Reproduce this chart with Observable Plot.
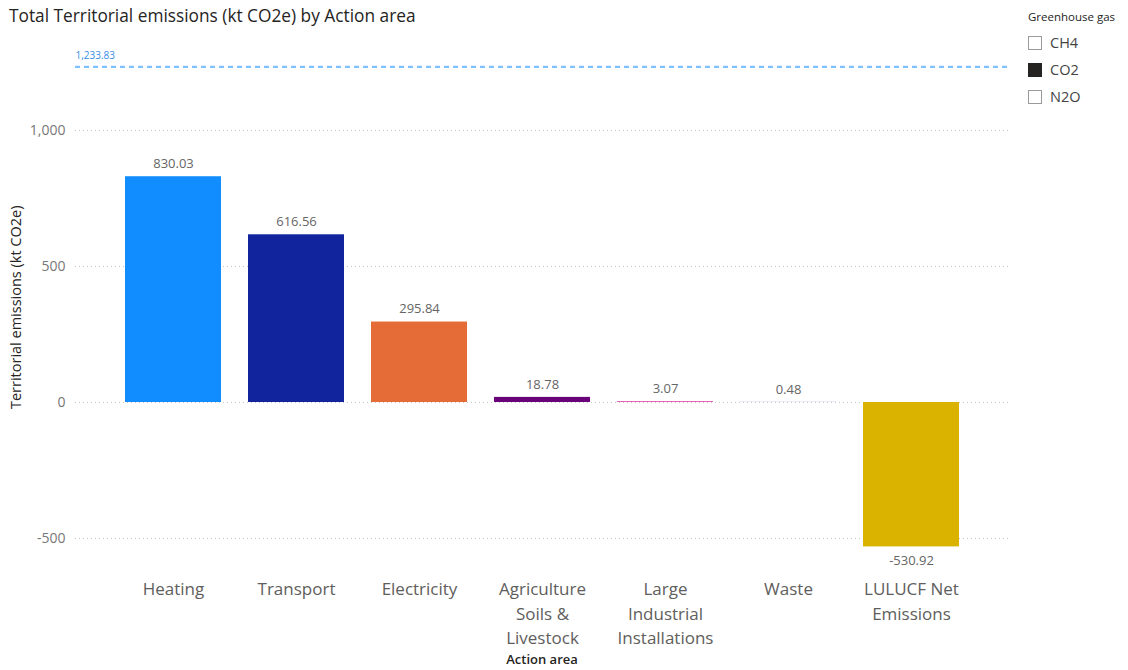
<!DOCTYPE html>
<html>
<head>
<meta charset="utf-8">
<script src="https://cdn.jsdelivr.net/npm/d3@7"></script>
<script src="https://cdn.jsdelivr.net/npm/@observablehq/plot@0.6"></script>
<style>
  html, body { margin: 0; padding: 0; background: #fff; }
  body { width: 1128px; height: 670px; position: relative; overflow: hidden; font-family: "Open Sans", "Noto Sans", sans-serif; }
  #title { position: absolute; left: 9px; top: 4px; font-size: 17.3px; color: #252423; white-space: nowrap; z-index: 2; }
  #chart { position: absolute; left: 0; top: 32px; z-index: 1; }
  #legend { position: absolute; left: 1028px; top: 9px; color: #252423; z-index: 3; }
  #legend .head { font-size: 11.5px; margin-bottom: 5px; }
  #legend .item { display: flex; align-items: center; height: 27px; font-size: 14.5px; color: #444; }
  #legend .box { width: 12px; height: 12px; border: 1px solid #9a9a9a; background: #fff; margin-right: 8px; box-sizing: content-box; }
  #legend .box.on { background: #252423; border-color: #252423; }
</style>
</head>
<body>
<div id="title">Total Territorial emissions (kt CO2e) by Action area</div>
<div id="legend"></div>
<div id="chart"></div>
<script>
const categories = ["Heating", "Transport", "Electricity", "Agriculture Soils & Livestock", "Large Industrial Installations", "Waste", "LULUCF Net Emissions"];
const values = [830.03, 616.56, 295.84, 18.78, 3.07, 0.48, -530.92];
const tickLabels = ["Heating", "Transport", "Electricity", "Agriculture\nSoils &\nLivestock", "Large\nIndustrial\nInstallations", "Waste", "LULUCF Net\nEmissions"];
const barColors = ["#118DFF", "#12239E", "#E66C37", "#6B007B", "#E044A7", "#744EC2", "#D9B300"];
const yTicks = [-500, 0, 500, 1000];
const referenceValue = 1233.83;
const legendTitle = "Greenhouse gas";
const legendItems = ["CH4", "CO2", "N2O"];
const legendSelected = ["CO2"];

const data = categories.map((c, i) => ({category: c, value: values[i], label: tickLabels[i]}));
const labelOf = new Map(data.map(d => [d.category, d.label]));
const fmt2 = v => v.toLocaleString("en-US", {minimumFractionDigits: 2, maximumFractionDigits: 2});
const fmt0 = v => v.toLocaleString("en-US");

const chart = Plot.plot({
  width: 1128,
  height: 638,
  marginLeft: 75,
  marginRight: 120,
  marginTop: 16.4,
  marginBottom: 104.8,
  style: {fontFamily: "'Open Sans', 'Noto Sans', sans-serif", background: "#fff"},
  x: {domain: categories, paddingInner: 0.22, paddingOuter: 0.4, axis: null},
  y: {domain: [-600, 1300], axis: null},
  color: {domain: categories, range: barColors},
  marks: [
    Plot.gridY(yTicks, {stroke: "#c8c8c8", strokeOpacity: 1, strokeDasharray: "1,3", strokeWidth: 1}),
    Plot.axisY(yTicks, {tickSize: 0, tickPadding: 10, fontSize: 14, color: "#777", tickFormat: fmt0, label: null}),
    Plot.text(["Territorial emissions (kt CO2e)"], {frameAnchor: "left", textAnchor: "middle", rotate: -90, dx: -59, fontSize: 14.5, fill: "#252423"}),
    Plot.barY(data, {x: "category", y: "value", fill: "category"}),
    Plot.text(data.filter(d => d.value >= 0), {x: "category", y: "value", text: d => fmt2(d.value), dy: -13, fontSize: 13, fill: "#666"}),
    Plot.text(data.filter(d => d.value < 0), {x: "category", y: "value", text: d => fmt2(d.value), dy: 14, fontSize: 13, fill: "#666"}),
    Plot.ruleY([referenceValue], {stroke: "#80c2ff", strokeWidth: 2.2, strokeDasharray: "5,4"}),
    Plot.text([referenceValue], {y: d => d, text: d => fmt2(d), frameAnchor: "left", textAnchor: "start", dy: -11, fontSize: 10, fill: "#3a8ee6"}),
    Plot.axisX({tickSize: 0, tickPadding: 12, fontSize: 17, color: "#605E5C", lineHeight: 1.45, tickFormat: d => labelOf.get(d), label: null}),
    Plot.text(["Action area"], {frameAnchor: "bottom", dy: 98, fontSize: 13, fontWeight: 600, fill: "#252423"})
  ]
});
document.getElementById("chart").appendChild(chart);

const legend = document.getElementById("legend");
const head = document.createElement("div");
head.className = "head";
head.textContent = legendTitle;
legend.appendChild(head);
for (const name of legendItems) {
  const item = document.createElement("div");
  item.className = "item";
  const box = document.createElement("span");
  box.className = "box" + (legendSelected.includes(name) ? " on" : "");
  const lab = document.createElement("span");
  lab.textContent = name;
  item.appendChild(box);
  item.appendChild(lab);
  legend.appendChild(item);
}
</script>
</body>
</html>
